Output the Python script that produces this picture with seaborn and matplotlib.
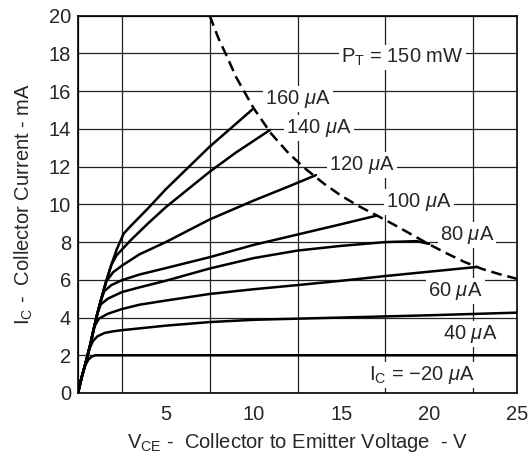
import numpy as np
import pandas as pd
import matplotlib
matplotlib.use('Agg')
import matplotlib.pyplot as plt
import seaborn as sns

# 数据：各基极电流下的输出特性曲线 (V in V, I in mA)
v_20 = [0, 0.2, 0.4, 0.6, 0.8, 1.0, 25]
i_20 = [0, 0.8, 1.45, 1.78, 1.94, 2.0, 2.0]

v_40 = [0, 0.2, 0.45, 0.65, 0.85, 1.1, 1.5, 2.0, 2.5, 5, 7.5, 10, 15, 20, 25]
i_40 = [0, 0.8, 1.65, 2.35, 2.75, 3.0, 3.18, 3.27, 3.33, 3.57, 3.76, 3.88, 4.0, 4.12, 4.26]

v_60 = [0, 0.2, 0.45, 0.7, 0.92, 1.2, 1.7, 2.5, 3.5, 5, 7.5, 10, 12.5, 15, 17.5, 20, 22.7]
i_60 = [0, 0.8, 1.65, 2.6, 3.5, 3.95, 4.2, 4.45, 4.68, 4.9, 5.25, 5.5, 5.72, 5.95, 6.2, 6.43, 6.68]

v_80 = [0, 0.2, 0.45, 0.7, 0.9, 1.1, 1.3, 1.7, 2.5, 3.5, 5, 7.5, 10, 12.5, 15, 17.5, 19.3, 20]
i_80 = [0, 0.8, 1.65, 2.55, 3.4, 4.2, 4.7, 5.0, 5.35, 5.6, 5.95, 6.6, 7.15, 7.55, 7.8, 8.0, 8.05, 7.9]

v_100 = [0, 0.2, 0.45, 0.7, 0.9, 1.1, 1.3, 1.5, 1.9, 2.5, 3.5, 5, 7.5, 10, 12.5, 15, 17]
i_100 = [0, 0.8, 1.65, 2.55, 3.4, 4.2, 4.9, 5.4, 5.72, 5.98, 6.28, 6.62, 7.2, 7.85, 8.4, 8.95, 9.4]

v_120 = [0, 0.2, 0.45, 0.7, 0.9, 1.1, 1.3, 1.6, 2.0, 2.5, 3.5, 5, 7.5, 10, 12, 13.55]
i_120 = [0, 0.8, 1.65, 2.55, 3.4, 4.2, 4.9, 5.9, 6.4, 6.75, 7.35, 8.0, 9.2, 10.2, 10.95, 11.55]

v_140 = [0, 0.2, 0.45, 0.7, 0.9, 1.1, 1.3, 1.6, 1.9, 2.2, 2.5, 3, 4, 5, 7.5, 9, 10.93]
i_140 = [0, 0.8, 1.65, 2.55, 3.4, 4.2, 4.9, 5.9, 6.8, 7.3, 7.6, 8.1, 9.0, 9.85, 11.73, 12.75, 13.94]

v_160 = [0, 0.2, 0.45, 0.7, 0.9, 1.1, 1.3, 1.6, 1.9, 2.2, 2.6, 3, 4, 5, 7.5, 8.6, 9.93]
i_160 = [0, 0.8, 1.65, 2.55, 3.4, 4.2, 4.9, 5.9, 6.8, 7.6, 8.45, 8.85, 9.8, 10.8, 13.06, 13.95, 15.03]

# PT = 150 mW 功耗曲线
v_pt = [7.5, 8, 8.5, 9, 10, 11, 12, 13, 14, 15, 16, 17, 18, 19, 20, 21, 22, 23, 24, 25]
i_pt = [20, 18.8, 17.8, 16.75, 15.1, 13.75, 12.7, 11.85, 11.1, 10.45, 9.9, 9.42, 8.92, 8.4, 7.88, 7.4, 6.95, 6.58, 6.3, 6.05]

curve_names = ['20', '40', '60', '80', '100', '120', '140', '160']
curve_v = [v_20, v_40, v_60, v_80, v_100, v_120, v_140, v_160]
curve_i = [i_20, i_40, i_60, i_80, i_100, i_120, i_140, i_160]

rows = []
for name, vs, cs in zip(curve_names, curve_v, curve_i):
    for v, c in zip(vs, cs):
        rows.append({'curve': name, 'V': v, 'I': c})
df = pd.DataFrame(rows)
pt_df = pd.DataFrame({'V': v_pt, 'I': i_pt})

sns.set_style('white')
plt.rcParams['font.family'] = ['Liberation Sans', 'DejaVu Sans']
plt.rcParams['mathtext.fontset'] = 'custom'
plt.rcParams['mathtext.rm'] = 'Liberation Sans'
plt.rcParams['mathtext.it'] = 'Liberation Sans:italic'

fig = plt.figure(figsize=(5.28, 4.58), dpi=100)
ax = fig.add_axes([78 / 528, 1 - 393 / 458, (517 - 78) / 528, (393 - 15.7) / 458])

sns.lineplot(data=df, x='V', y='I', units='curve', estimator=None, sort=False,
             color='black', linewidth=1.8, ax=ax, zorder=4)
sns.lineplot(data=pt_df, x='V', y='I', color='black', linewidth=1.8,
             linestyle=(0, (4.3, 2.3)), ax=ax, zorder=4)

ax.set_xlim(0, 25)
ax.set_ylim(0, 20)
ax.set_xticks([5, 10, 15, 20, 25])
ax.set_xticks(np.arange(0, 25.1, 2.5), minor=True)
ax.set_yticks(np.arange(0, 21, 2))
ax.grid(False)
ax.grid(which='minor', axis='x', color='#222222', linewidth=0.9)
ax.grid(which='major', axis='y', color='#222222', linewidth=0.9)
ax.tick_params(which='both', length=0, labelsize=14.5)
ax.tick_params(axis='x', pad=9)
ax.tick_params(axis='y', pad=5)
for s in ax.spines.values():
    s.set_color('black')
    s.set_linewidth(1.2)

ax.set_xlabel(r'V$_{\rm CE}$ -  Collector to Emitter Voltage  - V', fontsize=14.5, labelpad=5)
ax.set_ylabel(r'I$_{\rm C}$ -  Collector Current - mA', fontsize=14.5, labelpad=10)

# 曲线标签
labels = [
    (r'P$_{\rm T}$ = 150 mW', 15.0, 17.8),
    (r'160 $\mu$A', 10.65, 15.56),
    (r'140 $\mu$A', 11.85, 14.03),
    (r'120 $\mu$A', 14.3, 12.08),
    (r'100 $\mu$A', 17.54, 10.14),
    (r'80 $\mu$A', 20.6, 8.37),
    (r'60 $\mu$A', 19.95, 5.42),
    (r'40 $\mu$A', 20.8, 3.11),
    (r'I$_{\rm C}$ = −20 $\mu$A', 16.6, 0.95),
]
for txt, x, y in labels:
    ax.text(x, y, txt, fontsize=14.5, ha='left', va='center', zorder=3,
            bbox=dict(facecolor='white', edgecolor='none', pad=1.5))

fig.savefig('out.png', dpi=100)
